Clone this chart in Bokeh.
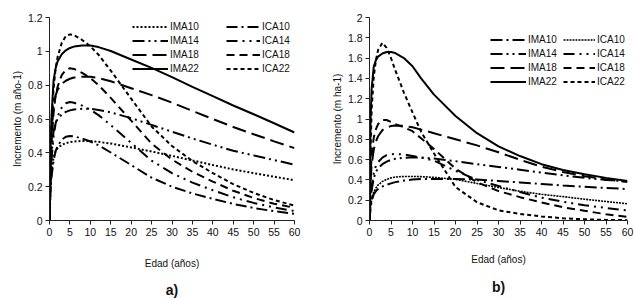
from bokeh.plotting import figure
from bokeh.layouts import row
from bokeh.models import (Range1d, FixedTicker, CustomJSTickFormatter, Legend,
                          LegendItem, Title)
from bokeh.embed import file_html
from bokeh.resources import INLINE

FONT = "Liberation Sans Narrow, Arial Narrow, Liberation Sans, Arial, sans-serif"

# ---------------- data ----------------
edad = [0, 0.25, 0.5, 1, 1.5, 2, 3, 4, 5, 6, 8, 10, 12, 15, 20, 25, 30, 35, 40, 45, 50, 55, 60]

# panel a) (m año-1)
a_IMA10 = [0, 0.19, 0.28, 0.375, 0.41, 0.428, 0.447, 0.457, 0.464, 0.467, 0.470, 0.470, 0.465, 0.455, 0.432, 0.408, 0.382, 0.355, 0.328, 0.302, 0.280, 0.259, 0.238]
a_IMA14 = [0, 0.265, 0.395, 0.528, 0.574, 0.600, 0.627, 0.642, 0.651, 0.656, 0.660, 0.660, 0.653, 0.639, 0.605, 0.565, 0.525, 0.485, 0.448, 0.412, 0.385, 0.357, 0.330]
a_IMA18 = [0, 0.34, 0.51, 0.68, 0.74, 0.774, 0.808, 0.826, 0.838, 0.845, 0.850, 0.850, 0.842, 0.823, 0.782, 0.741, 0.697, 0.648, 0.600, 0.553, 0.510, 0.468, 0.428]
a_IMA22 = [0, 0.414, 0.62, 0.828, 0.90, 0.942, 0.983, 1.006, 1.020, 1.028, 1.035, 1.035, 1.025, 1.002, 0.952, 0.902, 0.848, 0.790, 0.735, 0.680, 0.628, 0.575, 0.520]
a_ICA10 = [0, 0.175, 0.26, 0.355, 0.41, 0.44, 0.478, 0.495, 0.500, 0.497, 0.485, 0.467, 0.445, 0.402, 0.328, 0.253, 0.200, 0.160, 0.128, 0.098, 0.074, 0.055, 0.040]
a_ICA14 = [0, 0.245, 0.364, 0.497, 0.574, 0.616, 0.668, 0.693, 0.700, 0.696, 0.679, 0.655, 0.623, 0.564, 0.459, 0.354, 0.280, 0.224, 0.179, 0.137, 0.104, 0.077, 0.056]
a_ICA18 = [0, 0.315, 0.468, 0.639, 0.738, 0.792, 0.860, 0.891, 0.900, 0.896, 0.873, 0.842, 0.801, 0.725, 0.590, 0.455, 0.360, 0.288, 0.230, 0.176, 0.133, 0.099, 0.075]
a_ICA22 = [0, 0.385, 0.572, 0.78, 0.90, 0.968, 1.050, 1.090, 1.100, 1.095, 1.067, 1.030, 0.980, 0.886, 0.720, 0.556, 0.440, 0.352, 0.280, 0.215, 0.163, 0.121, 0.088]

# panel b) (m ha-1)
b_IMA10 = [0, 0.12, 0.19, 0.26, 0.29, 0.31, 0.335, 0.352, 0.366, 0.378, 0.394, 0.403, 0.408, 0.410, 0.410, 0.403, 0.390, 0.375, 0.360, 0.345, 0.332, 0.320, 0.310]
b_IMA14 = [0, 0.20, 0.30, 0.42, 0.48, 0.515, 0.555, 0.580, 0.597, 0.608, 0.618, 0.622, 0.621, 0.610, 0.585, 0.555, 0.528, 0.500, 0.472, 0.445, 0.420, 0.400, 0.385]
b_IMA18 = [0, 0.40, 0.55, 0.70, 0.78, 0.83, 0.89, 0.918, 0.930, 0.935, 0.932, 0.918, 0.895, 0.860, 0.800, 0.740, 0.672, 0.598, 0.530, 0.478, 0.437, 0.405, 0.380]
b_IMA22 = [0, 1.00, 1.30, 1.52, 1.58, 1.615, 1.645, 1.660, 1.660, 1.650, 1.600, 1.520, 1.400, 1.240, 1.030, 0.860, 0.730, 0.635, 0.555, 0.497, 0.455, 0.420, 0.390]
b_ICA10 = [0, 0.13, 0.20, 0.28, 0.32, 0.35, 0.385, 0.405, 0.420, 0.428, 0.434, 0.434, 0.432, 0.425, 0.405, 0.365, 0.325, 0.288, 0.258, 0.235, 0.210, 0.187, 0.165]
b_ICA14 = [0, 0.22, 0.34, 0.47, 0.54, 0.575, 0.620, 0.643, 0.653, 0.656, 0.650, 0.636, 0.620, 0.590, 0.490, 0.400, 0.340, 0.280, 0.225, 0.185, 0.150, 0.123, 0.098]
b_ICA18 = [0, 0.45, 0.65, 0.82, 0.90, 0.95, 0.99, 0.99, 0.970, 0.950, 0.918, 0.880, 0.810, 0.705, 0.510, 0.377, 0.290, 0.230, 0.178, 0.130, 0.095, 0.062, 0.035]
b_ICA22 = [0, 0.70, 1.10, 1.42, 1.58, 1.68, 1.75, 1.70, 1.600, 1.480, 1.260, 1.065, 0.875, 0.660, 0.330, 0.180, 0.100, 0.065, 0.040, 0.022, 0.012, 0.006, 0.003]

x_ticks = [0, 5, 10, 15, 20, 25, 30, 35, 40, 45, 50, 55, 60]
a_y_ticks = [0, 0.2, 0.4, 0.6, 0.8, 1, 1.2]
b_y_ticks = [0, 0.2, 0.4, 0.6, 0.8, 1, 1.2, 1.4, 1.6, 1.8, 2]

a_labels_col1 = ["IMA10", "IMA14", "IMA18", "IMA22"]
a_labels_col2 = ["ICA10", "ICA14", "ICA18", "ICA22"]
b_labels_col1 = ["IMA10", "IMA14", "IMA18", "IMA22"]
b_labels_col2 = ["ICA10", "ICA14", "ICA18", "ICA22"]

fmt = CustomJSTickFormatter(code="return String(Math.round(tick*10)/10);")


def make_panel(width, ymax, yticks, border, ylabel, ylabel_offset, xlabel_offset,
               xlabel_standoff, tag, tag_offset, tag_standoff):
    p = figure(width=width, height=299, output_backend="svg", toolbar_location=None,
               x_range=Range1d(0, 60), y_range=Range1d(0, ymax),
               min_border_left=border[0], min_border_right=border[1],
               min_border_top=border[2], min_border_bottom=border[3])
    p.outline_line_color = None
    p.xgrid.visible = False
    p.ygrid.visible = False
    p.background_fill_color = "white"
    p.border_fill_color = "white"
    for ax in (p.xaxis[0], p.yaxis[0]):
        ax.axis_line_color = "#222222"
        ax.major_tick_line_color = "#222222"
        ax.major_tick_out = 4
        ax.major_tick_in = 0
        ax.minor_tick_line_color = None
        ax.major_label_text_font = FONT
        ax.major_label_text_font_size = "10.5px"
        ax.major_label_text_color = "#111111"
        ax.major_label_standoff = 3
    p.xaxis.ticker = FixedTicker(ticks=x_ticks)
    p.yaxis.ticker = FixedTicker(ticks=yticks)
    p.yaxis.formatter = fmt
    p.add_layout(Title(text=ylabel, align="center", offset=ylabel_offset, standoff=4,
                       text_font=FONT, text_font_size="10px", text_font_style="normal",
                       text_color="#111111"), "left")
    p.add_layout(Title(text="Edad (años)", align="center", offset=xlabel_offset,
                       standoff=xlabel_standoff, text_font=FONT, text_font_size="10px",
                       text_font_style="normal", text_color="#111111"), "below")
    p.add_layout(Title(text=tag, align="center", offset=tag_offset, standoff=tag_standoff,
                       text_font="Liberation Sans, Arial, sans-serif", text_font_size="14px",
                       text_font_style="bold", text_color="#111111"), "below")
    return p


def add_legend(p, items, x, y, glyph_w):
    leg = Legend(items=items, location=(x, y), orientation="vertical",
                 glyph_width=glyph_w, glyph_height=13, label_height=13, spacing=1,
                 label_standoff=2, padding=0, margin=0,
                 border_line_alpha=0, background_fill_alpha=0,
                 label_text_font=FONT, label_text_font_size="10px",
                 label_text_color="#111111")
    p.add_layout(leg)


# ---------------- panel a ----------------
pa = make_panel(317, 1.2, a_y_ticks, (49, 23, 15, 78), "Incremento (m año-1)", 22,
                -11, 34, "a)", -11, -11)
a_series = [a_IMA10, a_IMA14, a_IMA18, a_IMA22, a_ICA10, a_ICA14, a_ICA18, a_ICA22]
a_dash = ["2 2", "12 4 2 4 2 4", "14 6", "solid", "11 4 2 4", "11 5 2 5 2 5", "8 5", "4 3"]
a_r = []
for ys, d in zip(a_series, a_dash):
    a_r.append(pa.line(edad, ys, line_color="black", line_width=2, line_dash=d))
add_legend(pa, [LegendItem(label=l, renderers=[r]) for l, r in zip(a_labels_col1, a_r[:4])],
           83, 145, 36)
add_legend(pa, [LegendItem(label=l, renderers=[r]) for l, r in zip(a_labels_col2, a_r[4:])],
           177, 145, 34)

# ---------------- panel b ----------------
pb = make_panel(317, 2.0, b_y_ticks, (52, 7, 17, 79), "Incremento (m ha-1)", 2,
                -16, 27, "b)", -11, -3)
b_series = [b_IMA10, b_IMA14, b_IMA18, b_IMA22, b_ICA10, b_ICA14, b_ICA18, b_ICA22]
b_dash = ["12 4 2 4", "12 4 2 4 2 4", "14 6", "solid", "2 1", "11 5 2 5 2 5", "8 5", "4 3"]
b_w = [2, 2, 2, 2, 1.6, 2, 2, 2]
b_r = []
for ys, d, w in zip(b_series, b_dash, b_w):
    b_r.append(pb.line(edad, ys, line_color="black", line_width=w, line_dash=d))
add_legend(pb, [LegendItem(label=l, renderers=[r]) for l, r in zip(b_labels_col1, b_r[:4])],
           121, 132, 36)
add_legend(pb, [LegendItem(label=l, renderers=[r]) for l, r in zip(b_labels_col2, b_r[4:])],
           194, 132, 32)

layout = row(pa, pb)
open("out.html", "w").write(file_html(layout, INLINE))
